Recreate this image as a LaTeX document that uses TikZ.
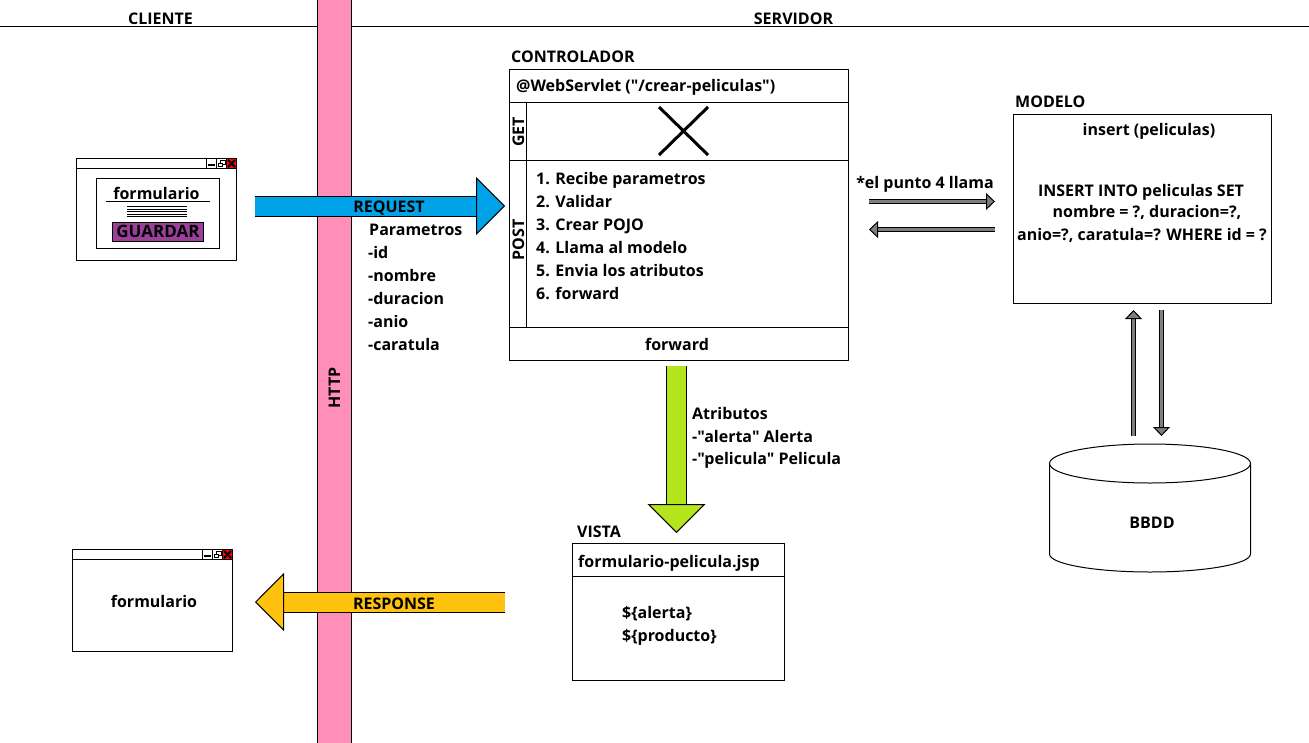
\documentclass[tikz,border=0pt]{standalone}
\usepackage{fontspec}
\setmainfont{Open Sans}[Ligatures=TeXOff]
\usetikzlibrary{positioning, arrows.meta}
\definecolor{httpc}{RGB}{255,143,184}
\definecolor{reqc}{RGB}{0,162,232}
\definecolor{resc}{RGB}{255,194,14}
\definecolor{atrc}{RGB}{181,230,29}
\definecolor{btnc}{RGB}{155,63,155}
\definecolor{flechac}{RGB}{127,127,127}
\begin{document}
\begin{tikzpicture}[x=1pt, y=-1pt,
  txt/.style={font=\fontsize{16}{18}\selectfont\bfseries, inner sep=0pt, text height=12pt, text depth=0pt},
  izq/.style={txt, anchor=west},
  caja/.style={draw, line width=1pt, inner sep=0pt, outer sep=0pt, anchor=north west},
  boton/.style={caja, minimum width=10pt, minimum height=10pt},
  fin/.style={line width=1pt},
  bloque/.style={line width=1pt, double distance=19pt, double=#1,
    -{Triangle[length=29pt, width=58pt, fill=#1]}},
  flecha/.style={line width=1pt, double distance=3pt, double=flechac,
    -{Triangle[length=9pt, width=17pt, fill=flechac]}}]
\useasboundingbox (0,0) rectangle (1309,742);
\fill[white] (0,0) rectangle (1309,742);
% encabezado
\draw[fin] (0,26.5) -- (1309,26.5);
\node[txt] (cliente) at (160.5,18) {CLIENTE};
\node[txt] (servidor) at (793.5,18) {SERVIDOR};
\node[draw, line width=1pt, fill=httpc, minimum width=34pt, minimum height=744pt] (http) at (334.5,371) {};
\node[txt, rotate=90] (httplab) at (334,388) {HTTP};
% ventana formulario
\node[caja, minimum width=160pt, minimum height=102pt] (vent1) at (76.5,158.5) {};
\draw[fin] (76.5,168.5) -- (236.5,168.5);
\node[boton] (min1) at (206.5,158.5) {};
\node[boton] (max1) at (216.5,158.5) {};
\node[boton, fill=red] (cer1) at (226.5,158.5) {};
\draw[line width=2pt] (208,164.5) -- (215,164.5);
\draw[line width=.8pt] (218.5,163) rectangle (222.5,166.5) (220.5,163) -- (220.5,160.5) -- (225,160.5) -- (225,164) -- (222.5,164);
\draw[line width=2pt] (228,160) -- (235,167) (228,167) -- (235,160);
\node[caja, minimum width=123pt, minimum height=70pt] (form1) at (96.5,178.5) {};
\node[txt] (formlab1) at (156.5,193) {formulario};
\draw[fin] (106,201.5) -- (210,201.5);
\foreach \i in {206.5,209,211.5,214,216.5} \draw[line width=.8pt] (127,\i) -- (187,\i);
\node[caja, fill=btnc, minimum width=91pt, minimum height=19pt] (guardar) at (112.5,222.5) {};
\node[txt, font=\fontsize{17}{18}\selectfont\bfseries] (guardarlab) at (158,231.7) {GUARDAR};
% ventana respuesta
\node[caja, minimum width=160pt, minimum height=102pt] (vent2) at (72.5,549.5) {};
\draw[fin] (72.5,559.5) -- (232.5,559.5);
\node[boton] (min2) at (202.5,549.5) {};
\node[boton] (max2) at (212.5,549.5) {};
\node[boton, fill=red] (cer2) at (222.5,549.5) {};
\draw[line width=2pt] (204,555.5) -- (211,555.5);
\draw[line width=.8pt] (214.5,554) rectangle (218.5,557.5) (216.5,554) -- (216.5,551.5) -- (221,551.5) -- (221,555) -- (218.5,555);
\draw[line width=2pt] (224,551) -- (231,558) (224,558) -- (231,551);
\node[txt] (formlab2) at (154,601.7) {formulario};
% controlador
\node[izq] (ctrllab) at (511,56) {CONTROLADOR};
\node[caja, minimum width=339pt, minimum height=291pt] (ctrl) at (509.5,69.5) {};
\draw[fin] (509.5,102.5) -- (848.5,102.5);
\draw[fin] (509.5,160.5) -- (848.5,160.5);
\draw[fin] (509.5,327.5) -- (848.5,327.5);
\draw[fin] (526.5,102.5) -- (526.5,327.5);
\node[izq] (servlet) at (516,85) {@WebServlet ("/crear-peliculas")};
\node[txt, rotate=90] (get) at (518,132) {GET};
\node[txt, rotate=90] (post) at (518,240) {POST};
\draw[line width=3pt] (659,107) -- (708,155) (659,155) -- (708,107);
\foreach \t [count=\n] in {1. Recibe parametros, 2. Validar, 3. Crear POJO, 4. Llama al modelo, 5. Envia los atributos, 6. forward}
  \node[izq] (paso\n) at (536,155+23*\n) {\t};
\node[txt] (fwd) at (677,344) {forward};
% parametros
\node[izq] (par0) at (369,229) {Parametros};
\foreach \t [count=\n] in {-id, -nombre, -duracion, -anio, -caratula}
  \node[izq] (par\n) at (368,229+23*\n) {\t};
% modelo
\node[izq] (modlab) at (1015,101.5) {MODELO};
\node[caja, minimum width=258pt, minimum height=189pt] (modelo) at (1013.5,114.5) {};
\node[txt] (insert) at (1149,129) {insert (peliculas)};
\node[txt] (sql1) at (1141,190.5) {INSERT INTO peliculas SET};
\node[txt] (sql2) at (1147,211.5) {nombre = ?, duracion=?,};
\node[txt] (sql3) at (1142,234) {anio=?, caratula=? WHERE id = ?};
% base de datos
\draw[fin] (1150,463.5) ellipse[x radius=100.5, y radius=19.5];
\draw[fin] (1049.5,463.5) -- (1049.5,554) arc[start angle=180, end angle=0, x radius=100.5, y radius=18] -- (1250.5,463.5);
\node[txt] (bbdd) at (1152,522) {BBDD};
% vista
\node[izq] (vistalab) at (577,531) {VISTA};
\node[caja, minimum width=212pt, minimum height=137pt] (vista) at (572.5,543.5) {};
\draw[fin] (572.5,576.5) -- (784.5,576.5);
\node[izq] (jsp) at (578,561) {formulario-pelicula.jsp};
\node[izq] (alerta) at (622,612) {\$\{alerta\}};
\node[izq] (producto) at (622,635) {\$\{producto\}};
% atributos
\node[izq] (atr0) at (692,413) {Atributos};
\node[izq] (atr1) at (692,436) {-"alerta" Alerta};
\node[izq] (atr2) at (692,458.5) {-"pelicula" Pelicula};
% flechas
\coordinate (reqini) at (255,206);
\coordinate (reqfin) at (505,206);
\coordinate (resini) at (505,602);
\coordinate (resfin) at (255,602);
\coordinate (atrini) at (676.5,366);
\coordinate (atrfin) at (676.5,533);
\draw[bloque=reqc] (reqini) -- (reqfin);
\draw[bloque=resc] (resini) -- (resfin);
\draw[bloque=atrc] (atrini) -- (atrfin);
\node[txt] (reqlab) at (389,206) {REQUEST};
\node[txt] (reslab) at (394,603) {RESPONSE};
\node[txt] (punto) at (925,182) {*el punto 4 llama};
\coordinate (a1) at (869,201.5);
\coordinate (a2) at (995,201.5);
\coordinate (b1) at (995,229.5);
\coordinate (b2) at (869,229.5);
\coordinate (c1) at (1133.5,436);
\coordinate (c2) at (1133.5,310);
\coordinate (d1) at (1161.5,310);
\coordinate (d2) at (1161.5,436);
\draw[flecha] (a1) -- (a2);
\draw[flecha] (b1) -- (b2);
\draw[flecha] (c1) -- (c2);
\draw[flecha] (d1) -- (d2);
\end{tikzpicture}
\end{document}
